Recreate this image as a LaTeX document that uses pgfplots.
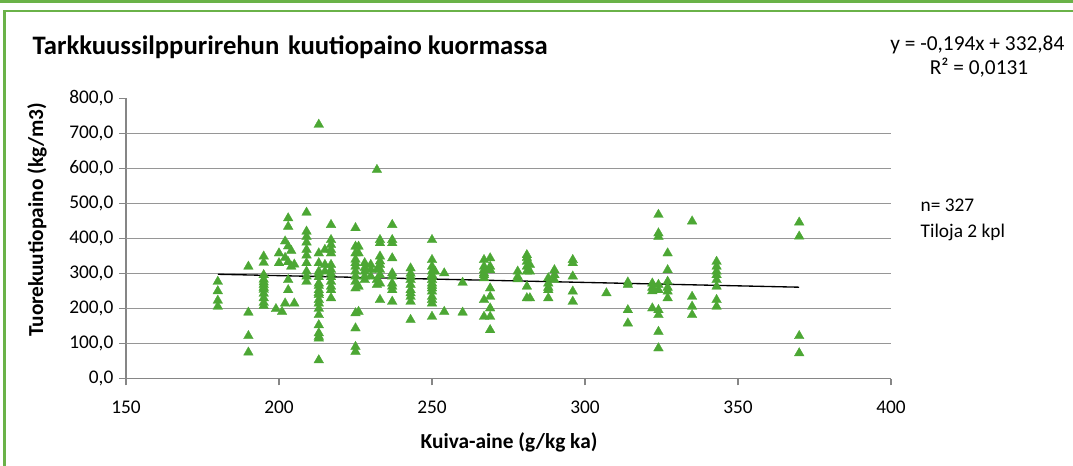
\documentclass[border=0pt]{standalone}
\usepackage{pgfplots}
\pgfplotsset{compat=1.18}
\usepackage{fontspec}
\setmainfont{Carlito}
\definecolor{mkgreen}{RGB}{76,167,52}
\definecolor{framegreen}{RGB}{106,178,72}
\definecolor{axgray}{RGB}{134,134,134}
\definecolor{gridgray}{RGB}{150,150,150}
\pgfplotstableread{
x y
180 277
180 250
180 223
180 206
190 320
190 189
190 122
190 75
195 349
195 331
195 296
195 283
195 275
195 268
195 260
195 254
195 243
195 230
195 217
195 208
200 358
200 330
199 199
201 191
203 458
203 434
202 392
203 378
204 365
202 345
203 333
205 326
204 320
203 282
203 253
202 215
205 215
209 474
209 420
209 405
209 389
209 368
209 352
209 330
209 306
209 292
209 277
213 725
213 358
213 330
213 306
213 300
213 290
213 272
213 265
213 253
213 245
213 239
213 225
213 215
213 200
213 182
213 153
213 130
213 120
213 115
213 53
215 368
215 325
215 306
217 439
217 396
217 382
217 368
217 358
217 325
217 311
217 300
217 290
217 277
217 263
217 253
217 230
225 430
225 377
225 358
225 340
225 330
225 320
225 306
225 292
225 277
225 258
225 187
225 144
225 91
225 77
226 377
226 358
226 263
226 191
228 330
228 316
228 306
228 292
228 282
230 325
230 311
230 292
232 596
232 311
232 282
232 268
233 396
233 387
233 349
233 335
233 325
233 311
233 296
233 272
233 225
237 439
237 396
237 387
237 344
237 301
237 292
237 272
237 263
237 253
237 220
243 315
243 300
243 291
243 282
243 268
243 253
243 244
243 234
243 220
243 168
250 396
250 339
250 320
250 306
250 296
250 290
250 282
250 272
250 265
250 258
250 249
250 234
250 225
250 215
250 177
251 306
254 301
254 191
260 274
260 189
267 339
267 320
267 310
267 301
267 296
267 287
267 225
267 177
269 344
269 320
269 310
269 258
269 234
269 201
269 177
269 139
278 306
278 291
278 284
281 353
281 345
281 334
281 320
281 306
281 263
281 230
282 325
282 306
282 230
288 287
288 272
288 260
288 253
288 230
290 310
290 296
290 282
296 339
296 330
296 292
296 249
296 220
307 244
314 275
314 268
314 196
314 158
322 272
322 260
322 250
322 201
324 468
324 415
324 405
324 268
324 253
324 196
324 182
324 134
324 87
327 358
327 310
327 277
327 260
327 249
327 230
335 449
335 234
335 206
335 182
343 334
343 320
343 306
343 296
343 282
343 263
343 225
343 206
370 446
370 406
370 122
370 73
}\datatable
\begin{document}
\begin{tikzpicture}[x=0.75pt,y=0.75pt]
\path[use as bounding box] (0,0) rectangle (1073,466);
\draw[framegreen,line width=2.2pt] (0,464.5) -- (1073,464.5);
\draw[framegreen,line width=2.2pt] (4.5,0) -- (4.5,455) -- (1073,455);
\begin{axis}[
  at={(94.5pt,65.475pt)}, anchor=south west,
  scale only axis, width=573.75pt, height=210.3pt,
  xmin=150, xmax=400, ymin=0, ymax=800,
  axis x line=bottom, axis y line=left,
  axis line style={axgray, line width=1.1pt, -},
  xtick={150,200,...,400},
  ytick={0,100,...,800},
  extra y ticks={100,200,...,700},
  extra y tick labels={},
  extra y tick style={grid=major, major tick length=0pt},
  grid style={gridgray, line width=0.9pt},
  tick style={axgray, line width=0.9pt},
  tick align=outside, major tick length=5pt,
  yticklabel={\pgfmathprintnumber[fixed,fixed zerofill,precision=1,use comma,assume math mode=true]{\tick}},
  xticklabel={\pgfmathprintnumber[assume math mode=true]{\tick}},
  ticklabel style={font=\fontsize{14.5}{16}\selectfont},
  yticklabel style={xshift=-1pt},
  xticklabel style={yshift=-8pt},
]
\addplot[only marks, mark=triangle*, mark size=4.2pt, mark options={fill=mkgreen, draw=mkgreen, line width=0.2pt}] table[x=x,y=y] {\datatable};
\addplot[black, line width=1pt] coordinates {(180,297.92) (370,261.06)};
\end{axis}
\node[anchor=west, font=\bfseries\fontsize{20}{24}\selectfont] at (28,419) {Tarkkuussilppurirehun\hspace{0.1em} kuutiopaino kuormassa};
\node[anchor=east, font=\fontsize{16}{19}\selectfont] at (1069,421) {y = -0,194x + 332,84};
\node[font=\fontsize{16}{19}\selectfont] at (979,398) {R² = 0,0131};
\node[anchor=west, font=\fontsize{14.5}{18}\selectfont] at (916,261) {n= 327};
\node[anchor=west, font=\fontsize{14.5}{18}\selectfont] at (916,234) {Tiloja 2 kpl};
\node[rotate=90, font=\bfseries\fontsize{16}{18}\selectfont] at (37,246) {Tuorekuutiopaino (kg/m3)};
\node[font=\bfseries\fontsize{16}{18}\selectfont] at (509,24) {Kuiva-aine (g/kg ka)};
\end{tikzpicture}
\end{document}
